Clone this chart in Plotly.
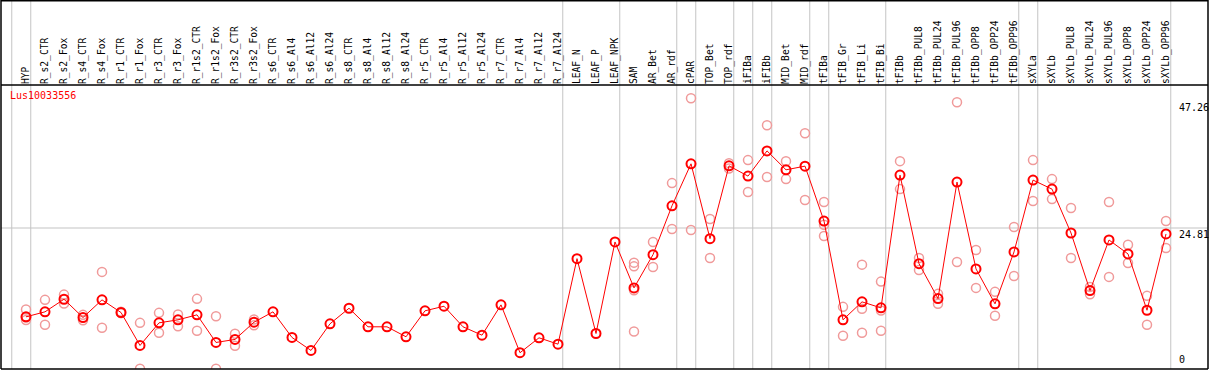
import plotly.graph_objects as go

categories = ["HYP", "R_s2_CTR", "R_s2_Fox", "R_s4_CTR", "R_s4_Fox", "R_r1_CTR", "R_r1_Fox",
              "R_r3_CTR", "R_r3_Fox", "R_r1s2_CTR", "R_r1s2_Fox", "R_r3s2_CTR", "R_r3s2_Fox",
              "R_s6_CTR", "R_s6_Al4", "R_s6_Al12", "R_s6_Al24", "R_s8_CTR", "R_s8_Al4", "R_s8_Al12",
              "R_s8_Al24", "R_r5_CTR", "R_r5_Al4", "R_r5_Al12", "R_r5_Al24", "R_r7_CTR", "R_r7_Al4",
              "R_r7_Al12", "R_r7_Al24", "LEAF_N", "LEAF_P", "LEAF_NPK", "SAM", "AR_Bet", "AR_rdf",
              "cPAR", "TOP_Bet", "TOP_rdf", "iFIBa", "iFIBb", "MID_Bet", "MID_rdf", "tFIBa",
              "tFIB_Gr", "tFIB_Li", "tFIB_Bi", "tFIBb", "tFIBb_PUL8", "tFIBb_PUL24", "tFIBb_PUL96",
              "tFIBb_OPP8", "tFIBb_OPP24", "tFIBb_OPP96", "sXYLa", "sXYLb", "sXYLb_PUL8",
              "sXYLb_PUL24", "sXYLb_PUL96", "sXYLb_OPP8", "sXYLb_OPP24", "sXYLb_OPP96"]

mean_values = [9.15, 10.03, 12.25, 9.03, 12.14, 9.91, 4.10, 8.09, 8.62, 9.50, 4.63, 5.16, 8.20,
               10.03, 5.51, 3.22, 7.92, 10.66, 7.39, 7.39, 5.63, 10.21, 11.02, 7.39, 5.91, 11.26,
               2.82, 5.45, 4.33, 19.41, 6.21, 22.35, 14.25, 20.11, 28.73, 36.13, 22.93, 35.77,
               33.96, 38.41, 35.07, 35.72, 26.04, 8.62, 11.79, 10.73, 34.14, 18.53, 12.37, 32.91,
               17.60, 11.44, 20.59, 33.26, 31.67, 23.93, 13.78, 22.70, 20.24, 10.31, 23.76]

replicates = [
    [10.43, 9.03, 8.59], [12.14, 7.74], [13.07, 11.49], [9.50, 8.55], [17.07, 7.21],
    [10.03, 9.80], [8.09, 0.0], [9.85, 6.33], [9.55, 7.50], [12.32, 6.69], [9.26, 0.0],
    [6.16, 4.05], [8.68, 7.67],
    [], [], [], [], [], [], [], [], [], [], [], [], [], [], [], [],
    [], [], [],
    [18.70, 18.05, 13.83, 6.56], [22.35, 17.95], [32.73, 24.63], [47.69, 24.46],
    [26.39, 19.53], [36.25, 35.30], [36.78, 31.15], [42.94, 33.79], [36.60, 33.43],
    [41.53, 29.74], [29.39, 25.39, 23.40], [10.91, 5.81], [18.35, 10.56, 6.33],
    [15.36, 10.26, 6.69], [36.60, 31.67], [19.53, 17.42], [13.20, 11.44], [46.98, 18.83],
    [20.94, 14.25], [13.55, 9.33], [24.99, 16.36], [36.78, 29.56], [33.43, 29.91],
    [28.33, 19.53], [14.43, 13.13], [29.39, 16.19], [21.87, 18.65], [12.85, 7.74],
    [26.04, 21.29],
]

group_ends = ["HYP", "R_r7_Al24", "LEAF_NPK", "AR_rdf", "cPAR", "TOP_rdf", "iFIBa", "iFIBb",
              "MID_rdf", "tFIBa", "tFIB_Bi", "tFIBb_OPP96", "sXYLa", "sXYLb_OPP96"]

gene_name = "Lus10033556"
y_tick_values = [47.26, 24.81, 0]
y_tick_labels = ["47.26", "24.81", "0"]
mid_line_value = 24.81

FONT = "DejaVu Sans Mono"
W, H = 1209, 370
ML, MR, MT, MB = 1, 1, 85, 1
plot_h = H - MT - MB
top_paper = 1 + MT / plot_h

rep_x, rep_y = [], []
for cat, reps in zip(categories, replicates):
    for v in reps:
        rep_x.append(cat)
        rep_y.append(v)

fig = go.Figure()
fig.add_trace(go.Scatter(
    x=rep_x, y=rep_y, mode="markers",
    marker=dict(symbol="circle-open", size=9, color="#f09a9a", line=dict(width=1.5, color="#f09a9a")),
    hoverinfo="skip", showlegend=False,
))
fig.add_trace(go.Scatter(
    x=categories, y=mean_values, mode="lines+markers",
    line=dict(color="#ff0000", width=1),
    marker=dict(symbol="circle-open", size=9, color="#ff0000", line=dict(width=2, color="#ff0000")),
    showlegend=False,
))

shapes = []
# group separators (just right of the group's last category), plus one before the first
sep_positions = [-1] + [categories.index(g) for g in group_ends]
for p in sep_positions:
    xp = p + 0.25
    shapes.append(dict(type="line", xref="x", yref="paper", x0=xp, x1=xp, y0=0, y1=top_paper,
                       line=dict(color="#c4c4c4", width=1), layer="below"))
# horizontal middle line
shapes.append(dict(type="line", xref="paper", yref="y", x0=0, x1=1, y0=mid_line_value, y1=mid_line_value,
                   line=dict(color="#c4c4c4", width=1.2), layer="below"))
# frame
frame = dict(color="black", width=1.5)
shapes += [
    dict(type="line", xref="paper", yref="paper", x0=0, x1=0, y0=0, y1=top_paper, line=frame),
    dict(type="line", xref="paper", yref="paper", x0=1, x1=1, y0=0, y1=top_paper, line=frame),
    dict(type="line", xref="paper", yref="paper", x0=0, x1=1, y0=0, y1=0, line=frame),
    dict(type="line", xref="paper", yref="paper", x0=0, x1=1, y0=1, y1=1, line=frame),
    dict(type="line", xref="paper", yref="paper", x0=0, x1=1, y0=top_paper - 0.7 / plot_h,
         y1=top_paper - 0.7 / plot_h, line=frame),
]

annotations = [dict(text=gene_name, xref="paper", yref="paper", x=0, y=1, xanchor="left", yanchor="top",
                    xshift=7, yshift=-3, showarrow=False, font=dict(family=FONT, size=10, color="#ff0000"))]
for v, t in zip(y_tick_values, y_tick_labels):
    if v == 0:
        annotations.append(dict(text=t, xref="paper", yref="y", x=1, y=v, xanchor="left", yanchor="bottom",
                                xshift=-31, yshift=2, showarrow=False,
                                font=dict(family=FONT, size=10, color="black")))
    else:
        annotations.append(dict(text=t, xref="paper", yref="y", x=1, y=v, xanchor="left", yanchor="top",
                                xshift=-31, yshift=1, showarrow=False,
                                font=dict(family=FONT, size=10, color="black")))

x_left = (ML - 26) / 19
x_right = (W - MR - 26) / 19
y_bottom = -0.05
y_top = (369.3 - 85) / 5.683

fig.update_layout(
    width=W, height=H,
    margin=dict(l=ML, r=MR, t=MT, b=MB, pad=0, autoexpand=False),
    paper_bgcolor="white", plot_bgcolor="white",
    shapes=shapes, annotations=annotations,
    xaxis=dict(type="category", categoryorder="array", categoryarray=categories,
               range=[x_left, x_right], side="top", tickangle=-90, showgrid=False, zeroline=False,
               showline=False, ticks="", tickfont=dict(family=FONT, size=9.6, color="black"),
               fixedrange=True, automargin=False),
    yaxis=dict(range=[y_bottom, y_top], showgrid=False, zeroline=False, showticklabels=False,
               showline=False, ticks="", fixedrange=True, automargin=False),
    font=dict(family=FONT),
)

fig.write_html("out.html", config={"displayModeBar": False},
               post_script="document.body.style.margin='0';document.body.style.padding='0';document.body.style.overflow='hidden';")
